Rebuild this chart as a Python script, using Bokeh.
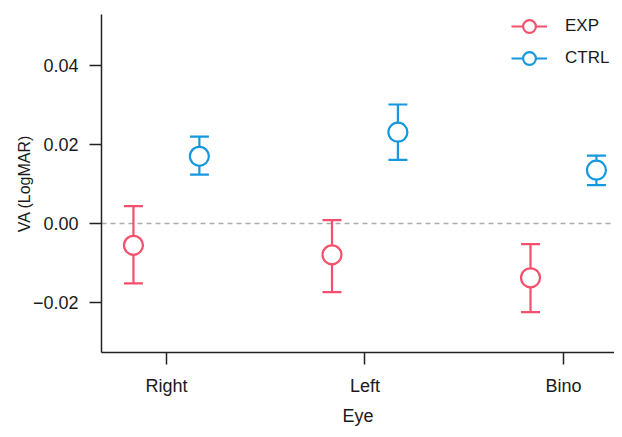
from bokeh.plotting import figure
from bokeh.models import Range1d, FixedTicker, Span, Legend, LegendItem, ColumnDataSource
from bokeh.embed import file_html
from bokeh.resources import INLINE

# ---- data ----
categories = ["Right", "Left", "Bino"]
groups = ["EXP", "CTRL"]
exp_mean = [-0.0055, -0.0079, -0.0137]
exp_lower = [-0.0151, -0.0173, -0.0224]
exp_upper = [0.0044, 0.0009, -0.0052]
ctrl_mean = [0.0170, 0.0231, 0.0135]
ctrl_lower = [0.0124, 0.0161, 0.0097]
ctrl_upper = [0.0220, 0.0301, 0.0172]
y_ticks = [-0.02, 0.0, 0.02, 0.04]
y_tick_labels = ["\u22120.02", "0.00", "0.02", "0.04"]
x_title = "Eye"
y_title = "VA (LogMAR)"

colors = {"EXP": "#F4506B", "CTRL": "#1598E0"}
dodge = {"EXP": -0.166, "CTRL": 0.166}
FONT = "Liberation Sans"

p = figure(width=614, height=429, output_backend="svg", toolbar_location=None,
           x_range=Range1d(-0.327, 2.257), y_range=Range1d(-0.03258, 0.05285),
           min_border_left=101, min_border_right=0, min_border_top=14, min_border_bottom=77)
p.outline_line_color = None
p.xgrid.visible = False
p.ygrid.visible = False
p.background_fill_color = "white"
p.border_fill_color = "white"

# zero reference line
p.add_layout(Span(location=0, dimension="width", line_color="#aaaaaa",
                  line_width=1.5, line_dash="5 4", level="underlay"))

legend_items = []
for g, mean, lo, hi in [("EXP", exp_mean, exp_lower, exp_upper),
                        ("CTRL", ctrl_mean, ctrl_lower, ctrl_upper)]:
    xs = [i + dodge[g] for i in range(len(categories))]
    src = ColumnDataSource(dict(x=xs, mean=mean, lo=lo, hi=hi))
    c = colors[g]
    p.segment(x0="x", y0="lo", x1="x", y1="hi", source=src, line_color=c, line_width=2.2)
    p.scatter(x="x", y="lo", source=src, marker="dash", size=19, line_color=c, line_width=2.2)
    p.scatter(x="x", y="hi", source=src, marker="dash", size=19, line_color=c, line_width=2.2)
    lr = p.line(x="x", y="mean", source=src, line_color=c, line_width=2.2, visible=False)
    cr = p.scatter(x="x", y="mean", source=src, marker="circle", size=19,
                   fill_color="white", line_color=c, line_width=2.2)
    legend_items.append(LegendItem(label=g, renderers=[lr, cr]))

legend = Legend(items=legend_items, location=(410, 278), padding=0, margin=0,
                spacing=-9, glyph_width=36, glyph_height=32, label_standoff=18,
                label_text_font=FONT, label_text_font_size="17px",
                label_text_color="#1a1a1a", border_line_color=None,
                background_fill_alpha=0)
p.add_layout(legend)

# axes
for ax in (p.xaxis[0], p.yaxis[0]):
    ax.axis_line_color = "#222222"
    ax.axis_line_width = 1.5
    ax.major_tick_line_color = "#222222"
    ax.major_tick_line_width = 1.5
    ax.major_tick_out = 12
    ax.major_tick_in = 0
    ax.minor_tick_line_color = None
    ax.major_label_text_font = FONT
    ax.major_label_text_font_size = "18px"
    ax.major_label_text_color = "#1a1a1a"
    ax.axis_label_text_font = FONT
    ax.axis_label_text_font_style = "normal"
    ax.axis_label_text_color = "#1a1a1a"

p.xaxis.ticker = FixedTicker(ticks=list(range(len(categories))))
p.xaxis.major_label_overrides = {i: c for i, c in enumerate(categories)}
p.xaxis.major_label_standoff = 11
p.xaxis.axis_label = x_title
p.xaxis.axis_label_text_font_size = "18px"
p.xaxis.axis_label_standoff = 7

p.yaxis.ticker = FixedTicker(ticks=y_ticks)
p.yaxis.major_label_overrides = {t: l for t, l in zip(y_ticks, y_tick_labels)}
p.yaxis.major_label_standoff = 11
p.yaxis.axis_label = y_title
p.yaxis.axis_label_text_font_size = "16px"
p.yaxis.axis_label_standoff = -3

open("out.html", "w").write(file_html(p, INLINE))
